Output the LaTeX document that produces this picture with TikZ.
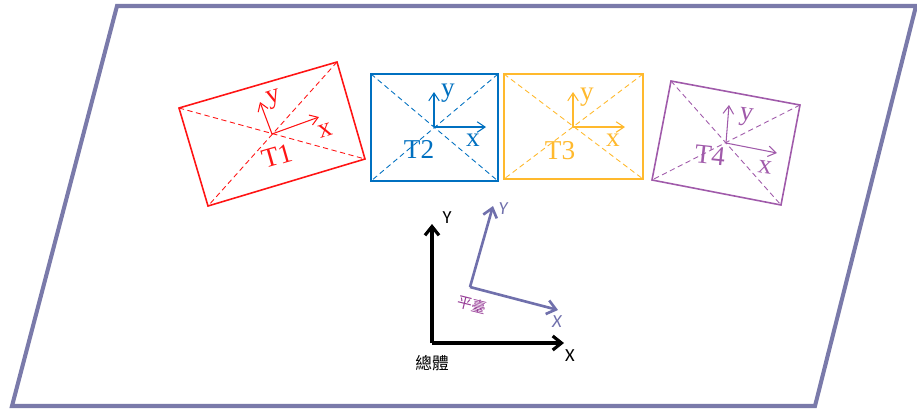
\documentclass[tikz,border=0pt]{standalone}
\usepackage{fontspec}
\setmainfont{Liberation Serif}
\newfontfamily\cjkfont{Noto Sans CJK TC}
\newfontfamily\axisfont{Carlito}
\usepackage{tikz}
\usetikzlibrary{arrows.meta}

\definecolor{framec}{RGB}{122,122,170}
\definecolor{tred}{RGB}{255,20,20}
\definecolor{tblue}{RGB}{0,112,192}
\definecolor{tgold}{RGB}{255,185,45}
\definecolor{tpurple}{RGB}{160,90,170}
\definecolor{platc}{RGB}{112,112,172}
\definecolor{platlab}{RGB}{150,60,150}

\begin{document}
\begin{tikzpicture}[
  x=0.02cm, y=-0.02cm,
  frame/.style={draw=framec, line width=2.3pt, line join=miter},
  target/.style={line width=0.9pt},
  diag/.style={line width=0.5pt, dash pattern=on 3pt off 2pt},
  axe/.style={-{Straight Barb[length=4.5pt,width=6pt]}, line width=0.6pt},
  lab/.style={inner sep=0pt, font=\fontsize{15.5}{18}\selectfont},
  world/.style={-{Straight Barb[length=5pt,width=8pt]}, line width=1.8pt, black},
  plat/.style={-{Straight Barb[length=5pt,width=8pt]}, line width=1.5pt, platc},
  wlab/.style={inner sep=0pt, font=\axisfont\fontsize{10.5}{12}\selectfont},
]
\useasboundingbox (0,0) rectangle (917,410);

% the table
\coordinate (p1) at (117,6);
\coordinate (p2) at (916,6);
\coordinate (p3) at (815,406);
\coordinate (p4) at (12,406);
\draw[frame] (p1) -- (p2) -- (p3) -- (p4) -- cycle;

% T1
\coordinate (t1a) at (179,108);
\coordinate (t1b) at (337,62);
\coordinate (t1c) at (365,159);
\coordinate (t1d) at (208,206);
\coordinate (t1o) at (272,134);
\coordinate (t1x) at (319,117);
\coordinate (t1y) at (260,102);
\draw[target, tred] (t1a) -- (t1b) -- (t1c) -- (t1d) -- cycle;
\draw[diag, tred] (t1a) -- (t1c) (t1b) -- (t1d);
\draw[axe, tred] (t1o) -- (t1x);
\draw[axe, tred] (t1o) -- (t1y);
\node[lab, tred, rotate=17] (t1ylab) at (274,99) {y};
\node[lab, tred, rotate=17] (t1xlab) at (325,131) {x};
\node[lab, tred, rotate=16] (t1lab) at (277,156) {T1};

% T2
\coordinate (t2a) at (371,74);
\coordinate (t2b) at (498,74);
\coordinate (t2c) at (498,181);
\coordinate (t2d) at (371,181);
\coordinate (t2o) at (434,127);
\coordinate (t2x) at (486,127);
\coordinate (t2y) at (434,92);
\draw[target, tblue] (t2a) -- (t2b) -- (t2c) -- (t2d) -- cycle;
\draw[diag, tblue] (t2a) -- (t2c) (t2b) -- (t2d);
\draw[axe, tblue] (t2o) -- (t2x);
\draw[axe, tblue] (t2o) -- (t2y);
\node[lab, tblue] (t2ylab) at (448,93) {y};
\node[lab, tblue] (t2xlab) at (473,140) {x};
\node[lab, tblue] (t2lab) at (419,149) {T2};

% T3
\coordinate (t3a) at (504,74);
\coordinate (t3b) at (643,74);
\coordinate (t3c) at (643,179);
\coordinate (t3d) at (504,179);
\coordinate (t3o) at (573,127);
\coordinate (t3x) at (625,127);
\coordinate (t3y) at (573,92);
\draw[target, tgold] (t3a) -- (t3b) -- (t3c) -- (t3d) -- cycle;
\draw[diag, tgold] (t3a) -- (t3c) (t3b) -- (t3d);
\draw[axe, tgold] (t3o) -- (t3x);
\draw[axe, tgold] (t3o) -- (t3y);
\node[lab, tgold] (t3ylab) at (587,97) {y};
\node[lab, tgold] (t3xlab) at (613,140) {x};
\node[lab, tgold] (t3lab) at (560,151) {T3};

% T4
\coordinate (t4a) at (671,81);
\coordinate (t4b) at (800,105);
\coordinate (t4c) at (781,205);
\coordinate (t4d) at (652,180);
\coordinate (t4o) at (726,143);
\coordinate (t4x) at (777,153);
\coordinate (t4y) at (729,105);
\draw[target, tpurple] (t4a) -- (t4b) -- (t4c) -- (t4d) -- cycle;
\draw[diag, tpurple] (t4a) -- (t4c) (t4b) -- (t4d);
\draw[axe, tpurple] (t4o) -- (t4x);
\draw[axe, tpurple] (t4o) -- (t4y);
\node[lab, tpurple, rotate=-8] (t4ylab) at (746,117) {y};
\node[lab, tpurple, rotate=-8] (t4xlab) at (765,167) {x};
\node[lab, tpurple, rotate=-6] (t4lab) at (710,155) {T4};

% world frame
\coordinate (wo) at (432,343);
\coordinate (wx) at (564,343);
\coordinate (wy) at (432,224);
\draw[world] (wo) -- (wx);
\draw[world] (wo) -- (wy);
\node[wlab] (wylab) at (447,218) {Y};
\node[wlab] (wxlab) at (570,356) {X};
\node[inner sep=0pt, font=\cjkfont\fontsize{9.5}{11}\selectfont] (wlab) at (432,363) {總體};

% platform frame
\coordinate (po) at (470,287);
\coordinate (px) at (558,310);
\coordinate (py) at (493,206);
\draw[plat] (po) -- (px);
\draw[plat] (po) -- (py);
\node[wlab, platc] (pylab) at (503,209) {\itshape Y};
\node[wlab, platc] (pxlab) at (557,322) {\itshape X};
\node[inner sep=0pt, platlab, rotate=-14, font=\cjkfont\fontsize{8.5}{10}\selectfont] (plab) at (472,305) {平臺};
\end{tikzpicture}
\end{document}
